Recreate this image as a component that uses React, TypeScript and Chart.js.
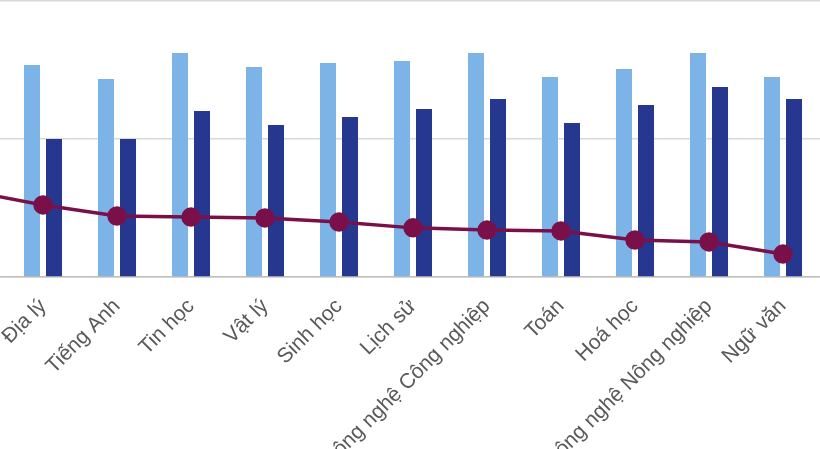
import React, { useEffect, useRef } from "react";
import { Chart, registerables } from "chart.js";

Chart.register(...registerables);

const categories = [
  "GDKT&PL",
  "Địa lý",
  "Tiếng Anh",
  "Tin học",
  "Vật lý",
  "Sinh học",
  "Lịch sử",
  "Công nghệ Công nghiệp",
  "Toán",
  "Hoá học",
  "Công nghệ Nông nghiệp",
  "Ngữ văn",
];

const seriesLight = [7.9, 7.68, 7.17, 8.12, 7.61, 7.75, 7.83, 8.12, 7.25, 7.54, 8.12, 7.25];
const seriesDark = [5.2, 5.0, 5.0, 6.01, 5.51, 5.8, 6.09, 6.45, 5.58, 6.23, 6.88, 6.45];
const seriesLine = [3.12, 2.61, 2.21, 2.17, 2.14, 1.99, 1.78, 1.7, 1.67, 1.34, 1.27, 0.83];

const yMin = 0;
const yMax = 10;
const yStep = 5;

export default function App() {
  const ref = useRef<HTMLCanvasElement | null>(null);

  useEffect(() => {
    if (!ref.current) return;
    const chart = new Chart(ref.current, {
      type: "bar",
      data: {
        labels: categories,
        datasets: [
          {
            type: "line",
            label: "Điểm trung bình",
            data: seriesLine,
            borderColor: "#7A1049",
            backgroundColor: "#7A1049",
            pointBackgroundColor: "#7A1049",
            pointBorderColor: "#7A1049",
            pointRadius: 8,
            borderWidth: 3.5,
            tension: 0,
            order: 0,
          } as any,
          {
            type: "bar",
            label: "Chuỗi 1",
            data: seriesLight,
            backgroundColor: "#7DB4E8",
            categoryPercentage: 0.595,
            barPercentage: 0.727,
            order: 1,
          },
          {
            type: "bar",
            label: "Chuỗi 2",
            data: seriesDark,
            backgroundColor: "#26378F",
            categoryPercentage: 0.595,
            barPercentage: 0.727,
            order: 1,
          },
        ],
      },
      options: {
        responsive: false,
        animation: false,
        layout: {
          autoPadding: false,
          padding: { left: 32, right: 0, top: 21, bottom: 0 },
        },
        plugins: {
          legend: { display: false },
          tooltip: { enabled: false },
        },
        scales: {
          x: {
            offset: true,
            grid: { display: false, drawTicks: false },
            border: { display: true, color: "#BFBFBF", width: 1.5 },
            ticks: {
              autoSkip: false,
              minRotation: 45,
              maxRotation: 45,
              padding: 17,
              color: "#595959",
              font: { family: "'Liberation Sans', Arial, sans-serif", size: 21 },
            },
            afterFit: (axis: any) => {
              axis.height = 250;
              axis.paddingLeft = 0;
              axis.paddingRight = 0;
              if (axis._margins) {
                axis._margins.left = 0;
                axis._margins.right = 0;
              }
            },
          },
          y: {
            min: yMin,
            max: yMax,
            ticks: { display: false, stepSize: yStep },
            grid: { color: "#D9D9D9", lineWidth: 1.5, drawTicks: false },
            border: { display: false },
            afterFit: (axis: any) => {
              axis.width = 0;
            },
          },
        },
      },
    });
    return () => chart.destroy();
  }, []);

  return (
    <div
      style={{
        position: "fixed",
        left: 0,
        top: 0,
        width: 820,
        height: 449,
        overflow: "hidden",
        background: "#FFFFFF",
      }}
    >
      <canvas
        ref={ref}
        width={920}
        height={547}
        style={{ position: "absolute", left: -100, top: -20, width: 920, height: 547 }}
      />
    </div>
  );
}
